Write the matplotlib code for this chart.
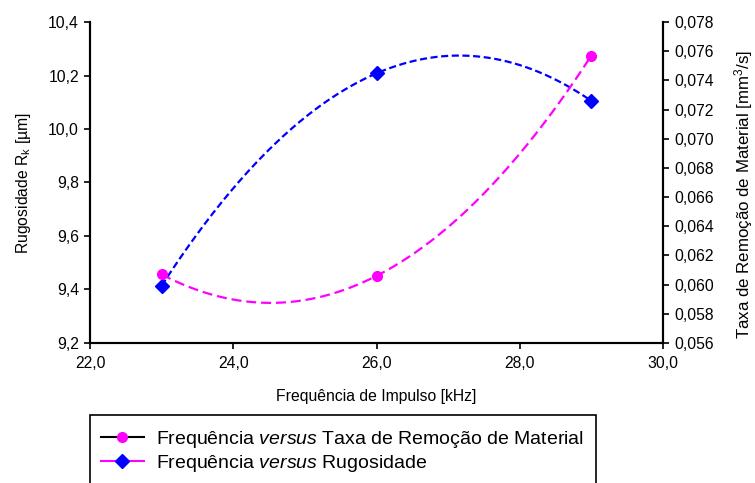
import numpy as np
import matplotlib
matplotlib.use("Agg")
import matplotlib.pyplot as plt
from matplotlib.lines import Line2D
from matplotlib.patches import Rectangle
from matplotlib.ticker import FuncFormatter

plt.rcParams["font.family"] = ["Liberation Sans", "DejaVu Sans"]
plt.rcParams["mathtext.fontset"] = "custom"
plt.rcParams["mathtext.rm"] = "Liberation Sans"
plt.rcParams["mathtext.it"] = "Liberation Sans:italic"
plt.rcParams["mathtext.default"] = "regular"

# Pulse frequency [kHz]
frequencia = [23.0, 26.0, 29.0]
# Roughness Rk [um] (left axis)
rugosidade = [9.414, 10.208, 10.105]
# Material removal rate [mm^3/s] (right axis)
taxa_remocao = [0.0607, 0.0606, 0.0757]

x_ticks = [22, 24, 26, 28, 30]
left_ticks = [9.2, 9.4, 9.6, 9.8, 10.0, 10.2, 10.4]
right_ticks = [0.056, 0.058, 0.060, 0.062, 0.064, 0.066, 0.068, 0.070,
               0.072, 0.074, 0.076, 0.078]

MAGENTA = "#ff00ff"
BLUE = "#0000ff"
FS = 11.3

fig = plt.figure(figsize=(7.55, 4.83), dpi=100)
ax = fig.add_axes([90 / 755, 1 - 343 / 483, (663 - 90) / 755, (343 - 22) / 483])
ax2 = ax.twinx()


def comma(dec):
    return FuncFormatter(lambda v, p: f"{v:.{dec}f}".replace(".", ","))


# 2nd-order polynomial trend lines through each series
xs = np.linspace(frequencia[0], frequencia[-1], 200)
c_rug = np.polyfit(frequencia, rugosidade, 2)
c_tax = np.polyfit(frequencia, taxa_remocao, 2)
ax.plot(xs, np.polyval(c_rug, xs), color=BLUE, lw=1.6, ls=(0, (3.2, 1.6)), zorder=2)
ax2.plot(xs, np.polyval(c_tax, xs), color=MAGENTA, lw=1.6, ls=(0, (4.5, 2.2)), zorder=2)

ax.plot(frequencia, rugosidade, ls="none", marker="D", ms=7, color=BLUE, zorder=3)
ax2.plot(frequencia, taxa_remocao, ls="none", marker="o", ms=7, color=MAGENTA, zorder=3)

ax.set_xlim(22, 30)
ax.set_ylim(9.2, 10.4)
ax2.set_ylim(0.056, 0.078)
ax.set_xticks(x_ticks)
ax.set_yticks(left_ticks)
ax2.set_yticks(right_ticks)
ax.xaxis.set_major_formatter(comma(1))
ax.yaxis.set_major_formatter(comma(1))
ax2.yaxis.set_major_formatter(comma(3))

for a in (ax, ax2):
    a.spines["top"].set_visible(False)
    for s in a.spines.values():
        s.set_linewidth(1.5)
        s.set_color("black")
    a.tick_params(direction="out", length=4, width=1.2, labelsize=FS, colors="black")
ax.tick_params(axis="x", pad=5)
ax.tick_params(axis="y", pad=4)
ax2.tick_params(axis="y", pad=4)

ax.set_xlabel("Frequência de Impulso [kHz]", fontsize=FS, labelpad=13)
ax.set_ylabel("Rugosidade R$_k$ [µm]", fontsize=FS, labelpad=11)
fig.text(744 / 755, 1 - 194 / 483, "Taxa de Remoção de Material [mm$^3$/s]",
         rotation=90, ha="center", va="center", fontsize=12.2)

# Legend box below the plot
fig.patches.append(Rectangle((90 / 755, -0.05), (596 - 90) / 755, 0.05 + (483 - 415) / 483,
                             transform=fig.transFigure, fill=False, lw=1.2,
                             edgecolor="black"))
handles = [
    Line2D([], [], color="black", lw=1.5, marker="o", ms=7,
           markerfacecolor=MAGENTA, markeredgecolor=MAGENTA),
    Line2D([], [], color=MAGENTA, lw=1.5, marker="D", ms=7,
           markerfacecolor=BLUE, markeredgecolor=BLUE),
]
labels = [
    r"Frequência $\it{versus}$ Taxa de Remoção de Material",
    r"Frequência $\it{versus}$ Rugosidade",
]
fig.legend(handles, labels, loc="upper left",
           bbox_to_anchor=(101 / 755, 1 - 429 / 483), frameon=False,
           fontsize=14, handlelength=2.2, handletextpad=0.65,
           labelspacing=0.15, borderpad=0, borderaxespad=0)

fig.savefig("out.png", dpi=100)
